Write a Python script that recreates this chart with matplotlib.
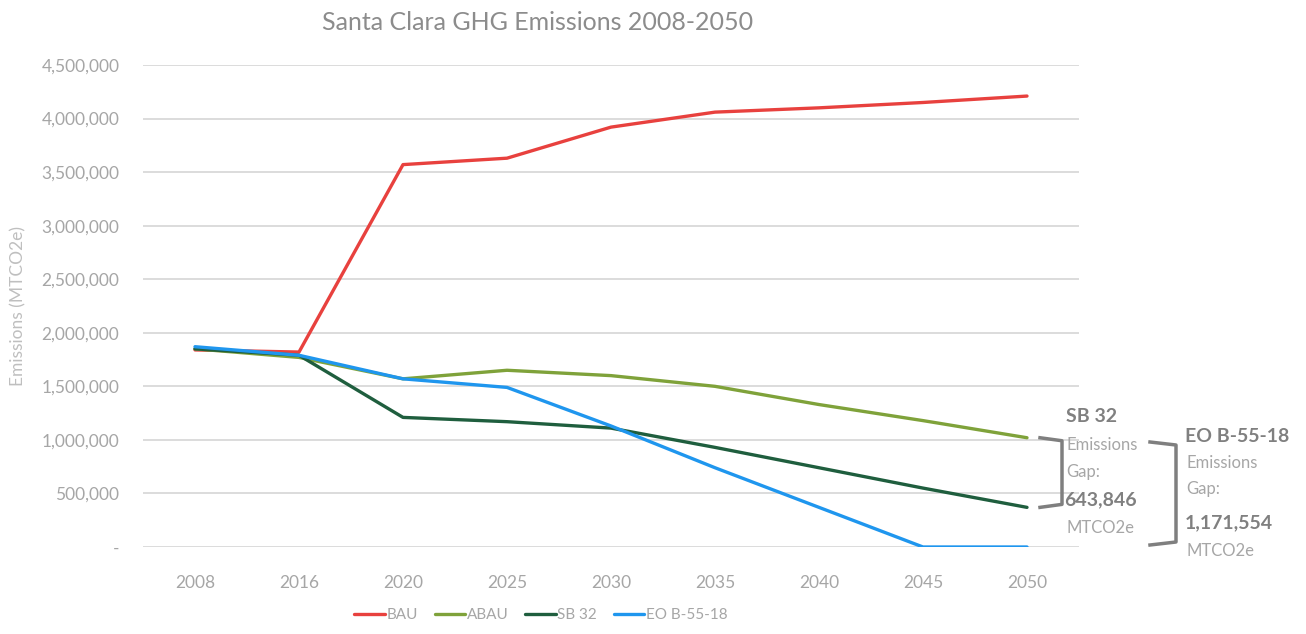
import matplotlib
matplotlib.use("Agg")
import matplotlib.pyplot as plt
from matplotlib.ticker import FuncFormatter
from matplotlib.lines import Line2D

plt.rcParams['font.family'] = ['Lato', 'DejaVu Sans']

# data
years = ['2008', '2016', '2020', '2025', '2030', '2035', '2040', '2045', '2050']
bau = [1840000, 1820000, 3570000, 3630000, 3920000, 4060000, 4100000, 4150000, 4210000]
abau = [1850000, 1770000, 1570000, 1650000, 1600000, 1500000, 1330000, 1180000, 1020000]
sb32 = [1850000, 1790000, 1210000, 1170000, 1110000, 930000, 740000, 550000, 370000]
eo = [1870000, 1790000, 1570000, 1490000, 1130000, 740000, 370000, 0, 0]
series_names = ['BAU', 'ABAU', 'SB 32', 'EO B-55-18']
colors = ['#E8413E', '#7FA23A', '#1F5E3E', '#1F96EE']
sb_gap_text = '643,846'
eo_gap_text = '1,171,554'

W, H = 1306, 634
fig = plt.figure(figsize=(W / 100, H / 100), dpi=100)
ax = fig.add_axes([143 / W, 87 / H, 936 / W, 482 / H])

x = list(range(len(years)))
for vals, name, c in zip([bau, abau, sb32, eo], series_names, colors):
    ax.plot(x, vals, color=c, lw=2.4, label=name, solid_capstyle='round', zorder=3)

ax.set_xlim(-0.5, len(years) - 0.5)
ax.set_ylim(0, 4500000)
ax.set_yticks(range(0, 4500001, 500000))
ax.yaxis.set_major_formatter(FuncFormatter(lambda v, p: '-' if v == 0 else f'{int(v):,}'))
ax.set_xticks(x)
ax.set_xticklabels(years)
ax.grid(axis='y', color='#D9D9D9', lw=1.3)
ax.set_axisbelow(True)
for s in ax.spines.values():
    s.set_visible(False)
ax.tick_params(length=0, labelsize=12.5, colors='#A6A6A6')
ax.tick_params(axis='x', pad=20)
ax.tick_params(axis='y', pad=17)
ax.set_ylabel('Emissions (MTCO2e)', color='#BFBFBF', fontsize=12.5)
ax.yaxis.set_label_coords(-0.124, 0.5)

fig.text(538 / W, 1 - 22 / H, 'Santa Clara GHG Emissions 2008-2050', ha='center', va='center',
         fontsize=18, color='#8C8C8C')

leg = fig.legend(loc='center', bbox_to_anchor=(541 / W, 1 - 615 / H), ncol=4, frameon=False,
                 fontsize=11, handlelength=2.0, columnspacing=1.1, handletextpad=0.1)
for t in leg.get_texts():
    t.set_color('#A6A6A6')

# gap brackets
def px(xp, yp):
    return xp / W, 1 - yp / H

def data_y(v):
    return ax.transData.transform((0, v))[1]

bc = '#7F7F7F'
top = H - data_y(abau[-1])
bot = H - data_y(sb32[-1])
fig.add_artist(Line2D([a / W for a in [1040, 1062, 1062, 1040]],
                      [1 - b / H for b in [top, top + 3, bot - 3, bot]], color=bc, lw=2.5))
top2, bot2 = 442, 545
fig.add_artist(Line2D([a / W for a in [1150, 1176, 1176, 1150]],
                      [1 - b / H for b in [top2, top2 + 3, bot2 - 3, bot2]], color=bc, lw=2.5))

tc = '#808080'
lc = '#A6A6A6'
fig.text(*px(1066, 417), 'SB 32', fontsize=14, fontweight='bold', color=tc, va='center')
fig.text(*px(1066, 445), 'Emissions', fontsize=12, color=lc, va='center')
fig.text(*px(1066, 472), 'Gap:', fontsize=12, color=lc, va='center')
fig.text(*px(1064, 500), sb_gap_text, fontsize=14, fontweight='bold', color=tc, va='center')
fig.text(*px(1066, 528), 'MTCO2e', fontsize=12, color=lc, va='center')

fig.text(*px(1185, 437), 'EO B-55-18', fontsize=14, fontweight='bold', color=tc, va='center')
fig.text(*px(1186, 463), 'Emissions', fontsize=12, color=lc, va='center')
fig.text(*px(1186, 489), 'Gap:', fontsize=12, color=lc, va='center')
fig.text(*px(1185, 523), eo_gap_text, fontsize=14, fontweight='bold', color=tc, va='center')
fig.text(*px(1186, 551), 'MTCO2e', fontsize=12, color=lc, va='center')

fig.savefig('out.png', dpi=100)
